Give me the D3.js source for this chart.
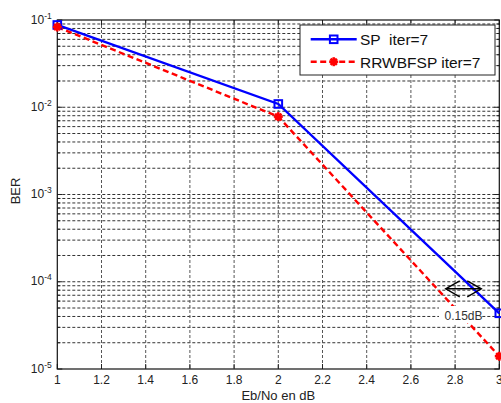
<!DOCTYPE html>
<html><head><meta charset="utf-8">
<script src="https://cdn.jsdelivr.net/npm/d3@7"></script>
<style>body{margin:0;background:#fff}svg{display:block;font-family:Arial,"Liberation Sans",sans-serif}</style>
</head><body>
<svg id="c" width="501" height="403"></svg>
<script>
const ebno = [1, 2, 3];
const spBER = [0.0877, 0.0109, 4.35e-5];
const rrBER = [0.0831, 0.0078, 1.4e-5];
const seriesNames = ["SP  iter=7", "RRWBFSP iter=7"];
const xTicks = [1, 1.2, 1.4, 1.6, 1.8, 2, 2.2, 2.4, 2.6, 2.8, 3];
const yDecades = [-5, -4, -3, -2, -1];
const annotationText = "0.15dB";
const arrowFrom = 2.7576, arrowTo = 2.9184, arrowBER = 8.3e-5;

const svg = d3.select("#c");
const L = 57.3, R = 499.3, T = 20, B = 369;
const x = d3.scaleLinear().domain([1, 3]).range([L, R]);
const y = d3.scaleLog().domain([1e-5, 1e-1]).range([B, T]);

// grid
const minor = [];
yDecades.slice(0, -1).forEach(d => { for (let m = 1; m <= 9; m++) minor.push(m * Math.pow(10, d)); });
minor.push(1e-1);
const g = svg.append("g");
g.selectAll(".gy").data(minor.filter(v => v > 1.01e-5 && v < 0.099)).enter().append("line")
  .attr("x1", L).attr("x2", R).attr("y1", d => y(d)).attr("y2", d => y(d))
  .attr("stroke", "#333").attr("stroke-width", 1).attr("stroke-dasharray", "3,2");
g.selectAll(".gx").data(xTicks.slice(1, -1)).enter().append("line")
  .attr("y1", T).attr("y2", B).attr("x1", d => x(d)).attr("x2", d => x(d))
  .attr("stroke", "#555").attr("stroke-width", 1).attr("stroke-dasharray", "3,2");

// ticks (inward)
const tk = svg.append("g").attr("stroke", "#222").attr("stroke-width", 1);
minor.forEach(v => {
  const isMaj = Math.abs(Math.log10(v) - Math.round(Math.log10(v))) < 1e-6;
  const len = isMaj ? 5 : 3;
  tk.append("line").attr("x1", L).attr("x2", L + len).attr("y1", y(v)).attr("y2", y(v));
  tk.append("line").attr("x1", R).attr("x2", R - len).attr("y1", y(v)).attr("y2", y(v));
});
xTicks.forEach(v => {
  tk.append("line").attr("x1", x(v)).attr("x2", x(v)).attr("y1", B).attr("y2", B - 5);
  tk.append("line").attr("x1", x(v)).attr("x2", x(v)).attr("y1", T).attr("y2", T + 5);
});

// box
svg.append("rect").attr("x", L).attr("y", T).attr("width", R - L).attr("height", B - T)
  .attr("fill", "none").attr("stroke", "#111").attr("stroke-width", 1.2);

// x tick labels
svg.append("g").selectAll("text").data(xTicks).enter().append("text")
  .attr("x", d => x(d)).attr("y", 383.5).attr("text-anchor", "middle")
  .attr("font-size", 12).attr("fill", "#222").text(d => d3.format("~g")(d));

// y tick labels
yDecades.forEach(d => {
  const t = svg.append("text").attr("x", 51.7).attr("y", y(Math.pow(10, d)) + 3.6)
    .attr("text-anchor", "end").attr("fill", "#222").attr("font-size", 12);
  t.append("tspan").text("10");
  t.append("tspan").attr("font-size", 8.5).attr("dy", -5).text(String(d));
});

// axis labels
svg.append("text").attr("x", (L + R) / 2).attr("y", 400).attr("text-anchor", "middle")
  .attr("font-size", 13).attr("fill", "#222").text("Eb/No en dB");
svg.append("text").attr("transform", "translate(19.5,191) rotate(-90)").attr("text-anchor", "middle")
  .attr("font-size", 13).attr("fill", "#222").text("BER");

// series
const line = d3.line().x(d => x(d[0])).y(d => y(d[1]));
const spData = ebno.map((e, i) => [e, spBER[i]]);
const rrData = ebno.map((e, i) => [e, rrBER[i]]);

function star(sel, cx, cy, r) {
  const gs = sel.append("g").attr("transform", `translate(${cx},${cy})`)
    .attr("stroke", "#ff0000").attr("stroke-width", 2.5);
  gs.append("circle").attr("r", r * 0.7).attr("fill", "#ff0000").attr("stroke", "none");
  [[-r, 0, r, 0], [0, -r, 0, r], [-r * .7, -r * .7, r * .7, r * .7], [-r * .7, r * .7, r * .7, -r * .7]]
    .forEach(a => gs.append("line").attr("x1", a[0]).attr("y1", a[1]).attr("x2", a[2]).attr("y2", a[3]));
}
function square(sel, cx, cy) {
  sel.append("rect").attr("x", cx - 3.8).attr("y", cy - 3.8).attr("width", 7.6).attr("height", 7.6)
    .attr("fill", "none").attr("stroke", "#0000ff").attr("stroke-width", 2);
}

svg.append("path").datum(spData).attr("d", line).attr("fill", "none")
  .attr("stroke", "#0000ff").attr("stroke-width", 2.4);
svg.append("path").datum(rrData).attr("d", line).attr("fill", "none")
  .attr("stroke", "#ff0000").attr("stroke-width", 2.4).attr("stroke-dasharray", "6,3.5");
spData.forEach(d => square(svg, x(d[0]), y(d[1])));
rrData.forEach(d => star(svg, x(d[0]), y(d[1]), 4.5));

// annotation
const ay = y(arrowBER), ax1 = x(arrowFrom), ax2 = x(arrowTo);
const an = svg.append("g").attr("stroke", "#000").attr("stroke-width", 1.4).attr("fill", "none");
an.append("line").attr("x1", ax1).attr("x2", ax2).attr("y1", ay).attr("y2", ay);
an.append("path").attr("d", `M${ax1 + 14},${ay - 8}L${ax1},${ay}L${ax1 + 14},${ay + 8}`);
an.append("path").attr("d", `M${ax2 - 14},${ay - 8}L${ax2},${ay}L${ax2 - 14},${ay + 8}`);
svg.append("rect").attr("x", 439).attr("y", 306).attr("width", 43).attr("height", 17).attr("fill", "#fff");
svg.append("text").attr("x", (ax1 + ax2) / 2).attr("y", 320).attr("text-anchor", "middle")
  .attr("font-size", 12).attr("fill", "#333").text(annotationText);

// legend
const lg = svg.append("g");
lg.append("rect").attr("x", 300).attr("y", 25).attr("width", 195).attr("height", 50)
  .attr("fill", "#fff").attr("stroke", "#222").attr("stroke-width", 1);
lg.append("line").attr("x1", 310.7).attr("x2", 356.7).attr("y1", 39.3).attr("y2", 39.3)
  .attr("stroke", "#0000ff").attr("stroke-width", 2.4);
square(lg, 333.7, 39.3);
lg.append("line").attr("x1", 310.7).attr("x2", 356.7).attr("y1", 61.7).attr("y2", 61.7)
  .attr("stroke", "#ff0000").attr("stroke-width", 2.4).attr("stroke-dasharray", "6,3.5");
star(lg, 333.7, 61.7, 4.5);
lg.append("text").attr("x", 360).attr("y", 45).attr("font-size", 15.5).attr("fill", "#111")
  .style("white-space", "pre").text(seriesNames[0]);
lg.append("text").attr("x", 360).attr("y", 67.5).attr("font-size", 15.5).attr("fill", "#111")
  .style("white-space", "pre").text(seriesNames[1]);
</script>
</body></html>
